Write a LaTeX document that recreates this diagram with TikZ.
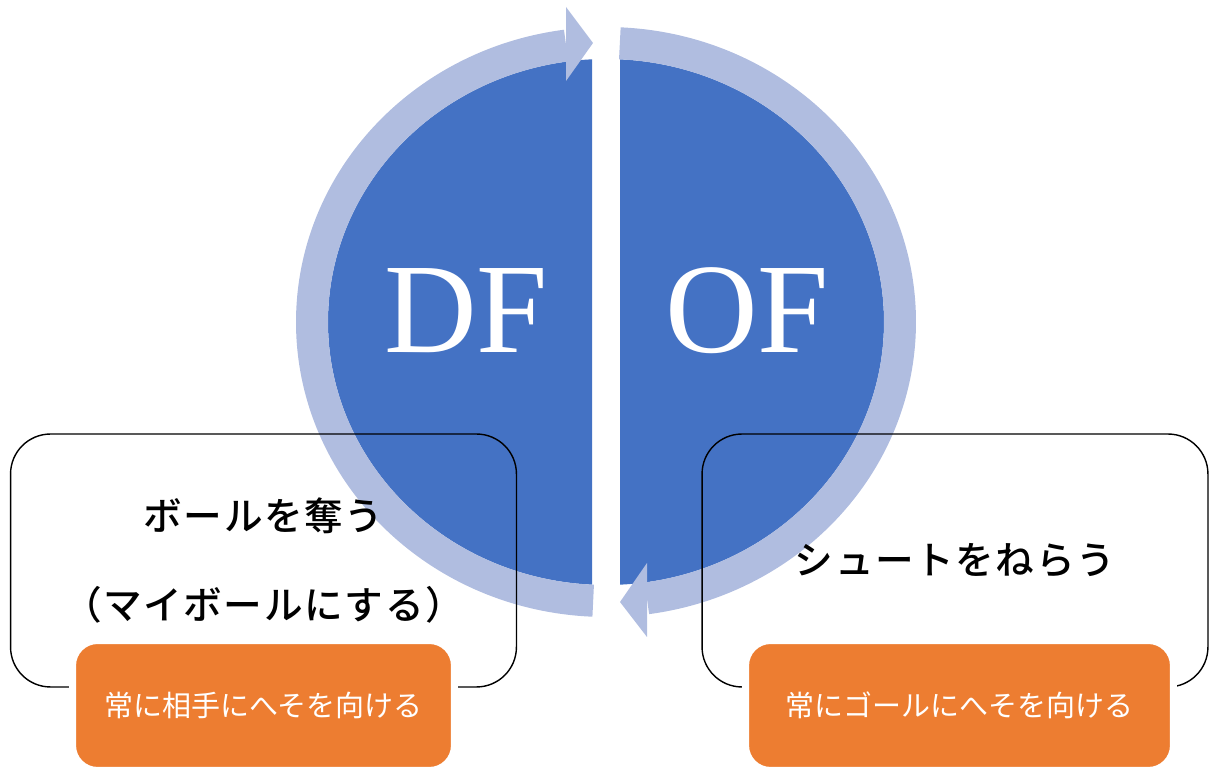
\documentclass[tikz,border=0pt]{standalone}
\usepackage{fontspec}
\setmainfont{Liberation Serif}
\newfontfamily\jpfont{Noto Sans CJK JP}[BoldFont={Noto Sans CJK JP Medium}]
\definecolor{halfblue}{RGB}{68,114,196}
\definecolor{ringblue}{RGB}{176,189,224}
\definecolor{tiporange}{RGB}{237,125,49}

\begin{document}
\begin{tikzpicture}[x=0.02cm,y=0.02cm,
  rolebox/.style={draw=black, line width=0.8pt, rounded corners=0.8cm, minimum width=10.12cm, minimum height=5.06cm, inner sep=0pt, align=center, font=\jpfont\bfseries\addfontfeature{LetterSpace=4}\fontsize{22pt}{51pt}\selectfont},
  tipbox/.style={fill=tiporange, draw=white, line width=4pt, rounded corners=0.5cm, minimum height=2.6cm, inner sep=0pt, text=white, font=\jpfont\fontsize{16.5pt}{20pt}\selectfont},
  rolename/.style={text=white, inner sep=0pt, font=\fontsize{73pt}{80pt}\selectfont}]
\useasboundingbox (0,0) rectangle (1211,767);
% the two halves
\begin{scope}
\clip (0,0) rectangle (592,767);
\fill[halfblue] (606,445) ellipse [x radius=278, y radius=263];
\end{scope}
\begin{scope}
\clip (620,0) rectangle (1211,767);
\fill[halfblue] (606,445) ellipse [x radius=278, y radius=263];
\end{scope}
% ring with its two heads
\draw[ringblue, line width=0.64cm] (606,445) ++(267.5:294 and 279) arc [start angle=267.5, end angle=97.8, x radius=294, y radius=279];
\draw[ringblue, line width=0.64cm] (606,445) ++(87.3:294 and 279) arc [start angle=87.3, end angle=-82, x radius=294, y radius=279];
\fill[ringblue] (566,760) -- (593,724) -- (566,686) -- cycle;
\fill[ringblue] (647,204) -- (620,165) -- (647,130) -- cycle;

\node[rolename] (df) at (466,456) {DF};
\node[rolename] (of) at (747,456) {OF};

\node[rolebox] (dfbox) at (263.5,206.5) {ボールを奪う\\（マイボールにする）};
\node[rolebox] (ofbox) at (955,206.5) {シュートをねらう};

\node[tipbox, minimum width=7.64cm] (dftip) at (263.5,61.5) {常に相手にへそを向ける};
\node[tipbox, minimum width=8.56cm] (oftip) at (959.5,61.5) {常にゴールにへそを向ける};
\end{tikzpicture}
\end{document}
